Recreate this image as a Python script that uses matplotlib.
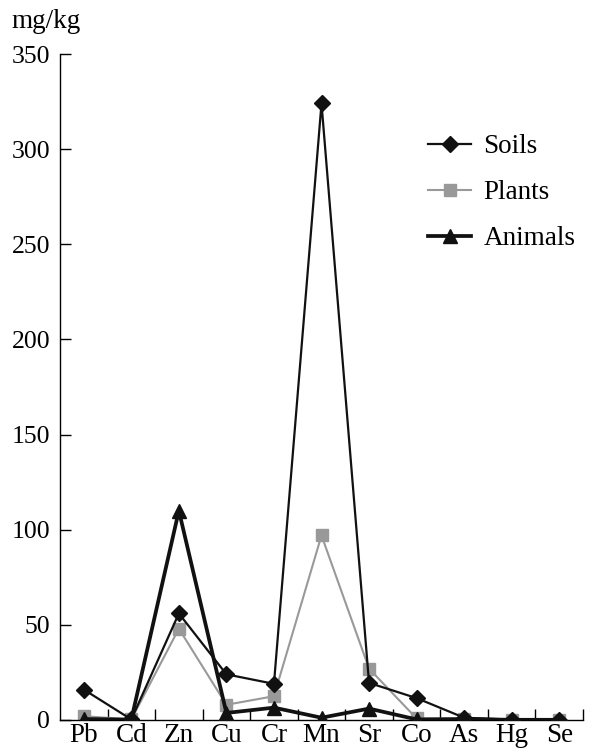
import numpy as np
import matplotlib.pyplot as plt

plt.rcParams['font.family'] = ['Liberation Serif', 'DejaVu Serif']

elements = ['Pb', 'Cd', 'Zn', 'Cu', 'Cr', 'Mn', 'Sr', 'Co', 'As', 'Hg', 'Se']
soils = [16, 0.3, 56, 24, 19, 324, 19.5, 11.5, 1.2, 0.2, 0.2]
plants = [2, 0.3, 48, 8, 12.5, 97, 27, 0.8, 0.6, 0.2, 0.2]
animals = [0.5, 0.2, 110, 3.7, 6.5, 1.2, 6, 0.3, 0.5, 0.1, 0.1]

fig = plt.figure(figsize=(6.05, 7.52), dpi=100)
ax = fig.add_axes([60 / 605, 1 - 720 / 752, 523 / 605, 666 / 752])

x = np.arange(len(elements))
ax.plot(x, soils, color='#111111', lw=1.6, marker='D', ms=8, label='Soils', zorder=3)
ax.plot(x, plants, color='#999999', lw=1.5, marker='s', ms=8, label='Plants', zorder=2)
ax.plot(x, animals, color='#111111', lw=2.7, marker='^', ms=9.5, label='Animals', zorder=4)

ax.set_xlim(-0.5, len(elements) - 0.5)
ax.set_ylim(0, 350)
ax.set_yticks(np.arange(0, 351, 50))
ax.set_xticks(x)
ax.set_xticklabels(elements)
ax.set_xticks(np.arange(0.5, len(elements), 1), minor=True)
ax.tick_params(axis='x', which='major', length=0, labelsize=19.5, pad=2)
ax.tick_params(axis='x', which='minor', direction='in', length=8, width=1)
ax.tick_params(axis='y', direction='in', length=8, width=1, labelsize=18.5, pad=7)
for s in ['top', 'right']:
    ax.spines[s].set_visible(False)
ax.spines['left'].set_linewidth(1)
ax.spines['bottom'].set_linewidth(1)

ax.legend(loc='upper left', bbox_to_anchor=(428 / 605, 1 - 134 / 752), bbox_transform=fig.transFigure,
          frameon=False, fontsize=19.5, handlelength=1.6, handletextpad=0.45, labelspacing=0.78,
          borderpad=0, borderaxespad=0)

fig.text(11 / 605, 1 - 28 / 752, 'mg/kg', fontsize=19.5, va='baseline', ha='left')

fig.savefig('out.png', dpi=100)
